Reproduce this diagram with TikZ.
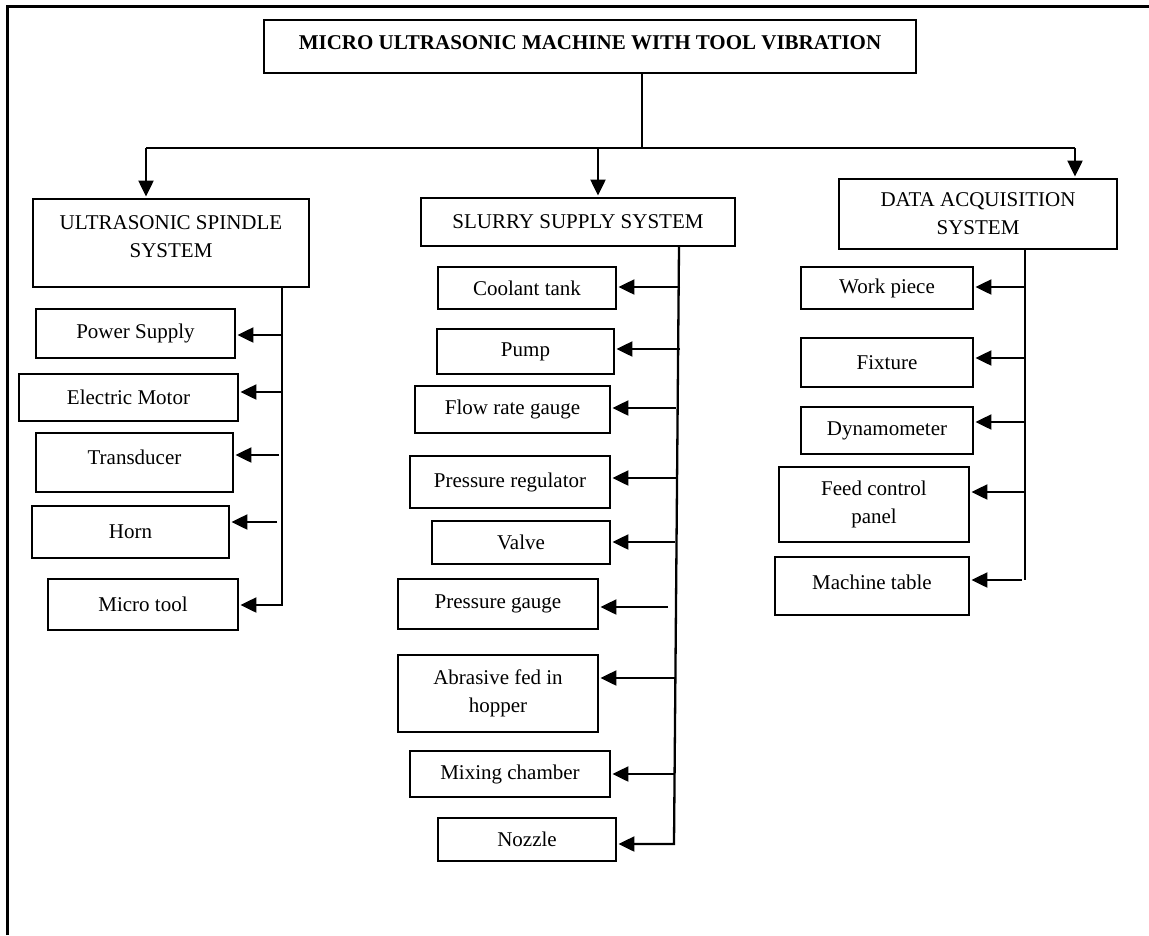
\documentclass[tikz,border=0pt]{standalone}
\usepackage{fontspec}
\setmainfont{Liberation Serif}
\usetikzlibrary{arrows.meta}
\tikzset{
  box/.style={draw, line width=1.9pt, inner sep=0pt, align=center, font=\fontsize{21}{28}\selectfont},
  arr/.style={line width=2.3pt, -{Triangle[length=16pt,width=15pt]}, shorten >=1.5pt},
  trunk/.style={line width=2.3pt},
  stem/.style={line width=1.3pt},
  bar/.style={line width=2pt},
  frame/.style={line width=2.8pt}
}
\newcommand\bx[7][]{\node[box,#1,minimum width={(#5-#3)*1pt},minimum height={(#6-#4)*1pt}] (#2) at ({(#3+#5)/2},{(#4+#6)/2}) {#7};}
\begin{document}
\begin{tikzpicture}[x=1pt,y=-1pt]
\useasboundingbox (0,0) rectangle (1149,935);
% outer frame (left and top edges only)
\draw[frame] (7.5,935) -- (7.5,6.7) -- (1149,6.7);

% title and main systems
\bx[font=\fontsize{21}{28}\selectfont\bfseries, text depth=7pt]{title}{264}{20}{916}{73}{MICRO ULTRASONIC MACHINE WITH TOOL VIBRATION}
\bx[text depth=12pt]{us}{33}{199}{309}{287}{ULTRASONIC SPINDLE\\SYSTEM}
\bx{ss}{421}{198}{735}{246}{SLURRY SUPPLY SYSTEM}
\bx{da}{839}{179}{1117}{249}{DATA ACQUISITION\\SYSTEM}

\coordinate (hub) at (642,148);
\coordinate (hl) at (146,148);
\coordinate (hm) at (598,148);
\coordinate (hr) at (1075,148);
\draw[stem] (title.south -| hub) -- (hub);
\draw[bar] (hl) -- (hr);
\draw[arr] (hl) -- (us.north -| hl);
\draw[arr] (hm) -- (ss.north -| hm);
\draw[arr] (hr) -- (da.north -| hr);

% ultrasonic spindle system
\bx{ps}{36}{309}{235}{358}{Power Supply}
\bx{em}{19}{374}{238}{421}{Electric Motor}
\bx[text depth=10pt]{td}{36}{433}{233}{492}{Transducer}
\bx{hn}{32}{506}{229}{558}{Horn}
\bx{mt}{48}{579}{238}{630}{Micro tool}
\coordinate (usEnd) at (282,605);
\draw[arr] (us.south -| usEnd) -- (usEnd) -- (mt.east |- usEnd);
\coordinate (a1) at (282,335);
\coordinate (a2) at (282,392);
\coordinate (a3) at (279,455);
\coordinate (a4) at (277,522);
\draw[arr] (a1) -- (ps.east |- a1);
\draw[arr] (a2) -- (em.east |- a2);
\draw[arr] (a3) -- (td.east |- a3);
\draw[arr] (a4) -- (hn.east |- a4);

% slurry supply system
\bx{ct}{438}{267}{616}{309}{Coolant tank}
\bx{pu}{437}{329}{614}{374}{Pump}
\bx{fr}{415}{386}{610}{433}{Flow rate gauge}
\bx{pr}{410}{456}{610}{508}{Pressure regulator}
\bx{va}{432}{521}{610}{564}{Valve}
\bx{pg}{398}{579}{598}{629}{Pressure gauge}
\bx{ab}{398}{655}{598}{732}{Abrasive fed in\\hopper}
\bx{mc}{410}{751}{610}{797}{Mixing chamber}
\bx{nz}{438}{818}{616}{861}{Nozzle}
\coordinate (ssTop) at (679,0);
\coordinate (ssEnd) at (674,844);
\draw[arr] (ss.south -| ssTop) -- (ssEnd) -- (nz.east |- ssEnd);
\coordinate (b1) at (680,287);
\coordinate (b2) at (680,349);
\coordinate (b3) at (676,408);
\coordinate (b4) at (676,478);
\coordinate (b5) at (675,542);
\coordinate (b6) at (668,607);
\coordinate (b7) at (675,678);
\coordinate (b8) at (675,774);
\draw[arr] (b1) -- (ct.east |- b1);
\draw[arr] (b2) -- (pu.east |- b2);
\draw[arr] (b3) -- (fr.east |- b3);
\draw[arr] (b4) -- (pr.east |- b4);
\draw[arr] (b5) -- (va.east |- b5);
\draw[arr] (b6) -- (pg.east |- b6);
\draw[arr] (b7) -- (ab.east |- b7);
\draw[arr] (b8) -- (mc.east |- b8);

% data acquisition system
\bx{wp}{801}{267}{973}{309}{Work piece}
\bx{fx}{801}{338}{973}{387}{Fixture}
\bx{dy}{801}{407}{973}{454}{Dynamometer}
\bx{fc}{779}{467}{969}{542}{Feed control\\panel}
\bx[text depth=8pt]{mtb}{775}{557}{969}{615}{Machine table}
\coordinate (daEnd) at (1025,580);
\draw[trunk] (da.south -| daEnd) -- (daEnd);
\coordinate (c1) at (1025,287);
\coordinate (c2) at (1025,358);
\coordinate (c3) at (1025,422);
\coordinate (c4) at (1025,492);
\coordinate (c5) at (1022,580);
\draw[arr] (c1) -- (wp.east |- c1);
\draw[arr] (c2) -- (fx.east |- c2);
\draw[arr] (c3) -- (dy.east |- c3);
\draw[arr] (c4) -- (fc.east |- c4);
\draw[arr] (c5) -- (mtb.east |- c5);
\end{tikzpicture}
\end{document}
